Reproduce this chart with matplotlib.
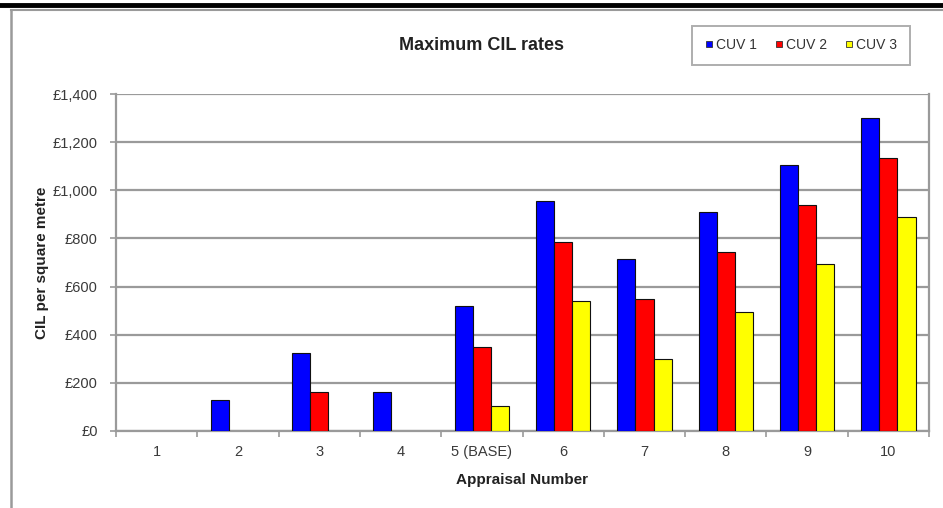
import numpy as np
import matplotlib.pyplot as plt
from matplotlib.lines import Line2D

plt.rcParams['font.family'] = ['Liberation Sans', 'DejaVu Sans']

categories = ['1', '2', '3', '4', '5 (BASE)', '6', '7', '8', '9', '10']
cuv1 = [0, 130, 325, 160, 520, 955, 715, 910, 1105, 1300]
cuv2 = [0, 0, 160, 0, 350, 785, 548, 745, 940, 1135]
cuv3 = [0, 0, 0, 0, 105, 540, 300, 495, 695, 890]
series_names = ['CUV 1', 'CUV 2', 'CUV 3']
colors = ['#0000ff', '#ff0000', '#ffff00']
yticks = [0, 200, 400, 600, 800, 1000, 1200, 1400]

fig = plt.figure(figsize=(9.43, 5.08), dpi=100)
ax = fig.add_axes([116 / 943, 1 - 431 / 508, (929 - 116) / 943, (431 - 94) / 508])

x = np.arange(len(categories))
w = 0.223
for k, vals in enumerate([cuv1, cuv2, cuv3]):
    vals = np.array(vals, dtype=float)
    mask = vals > 0
    ax.bar(x[mask] + (k - 1) * w, vals[mask], width=w, color=colors[k],
           edgecolor='#111111', linewidth=0.8, zorder=3)

ax.set_xlim(-0.5, len(categories) - 0.5)
ax.set_ylim(0, 1400)
ax.set_yticks(yticks)
ax.set_yticklabels(['£{:,}'.format(v) for v in yticks])
ax.set_xticks(x)
ax.set_xticklabels(categories)
ax.set_xticks(np.arange(-0.5, len(categories)), minor=True)

grid_c = '#9a9a9a'
ax.yaxis.grid(True, color=grid_c, linewidth=1.6, zorder=0)
for side in ['left', 'bottom', 'right']:
    ax.spines[side].set_color(grid_c)
    ax.spines[side].set_linewidth(1.6)
ax.spines['top'].set_visible(False)

ax.tick_params(axis='y', length=4, width=1.2, color=grid_c, pad=9,
               labelsize=10.5, labelcolor='#3a3a3a')
ax.tick_params(axis='x', which='major', length=0, pad=10,
               labelsize=10.5, labelcolor='#3a3a3a')
ax.tick_params(axis='x', which='minor', length=4, width=1.2, color=grid_c)

ax.set_xlabel('Appraisal Number', fontsize=11, fontweight='bold',
              color='#222222', labelpad=10)
ax.set_ylabel('CIL per square metre', fontsize=11, fontweight='bold',
              color='#222222', labelpad=3)

fig.text(482 / 943, 1 - 45 / 508, 'Maximum CIL rates', fontsize=13,
         fontweight='bold', color='#222222', ha='center', va='center')

handles = [Line2D([], [], marker='s', linestyle='none', markersize=5,
                  markerfacecolor=c, markeredgecolor='#333333', markeredgewidth=0.6)
           for c in colors]
leg = fig.legend(handles, series_names, loc='center',
                 bbox_to_anchor=(801 / 943, 1 - 45 / 508), ncol=3,
                 frameon=True, fancybox=False, fontsize=10,
                 handlelength=0.6, handletextpad=0.2, columnspacing=1.3,
                 borderpad=0.9)
leg.get_frame().set_edgecolor('#9a9a9a')
leg.get_frame().set_linewidth(1.4)
for t in leg.get_texts():
    t.set_color('#333333')

# outer frame: black band on top, grey border lines
fig.add_artist(Line2D([0, 1], [1 - 5 / 508, 1 - 5 / 508], color='black',
                      linewidth=3.5, transform=fig.transFigure))
fig.add_artist(Line2D([11 / 943, 1], [1 - 9.5 / 508, 1 - 9.5 / 508], color='#9a9a9a',
                      linewidth=1.5, transform=fig.transFigure))
fig.add_artist(Line2D([11 / 943, 11 / 943], [0, 1 - 9.5 / 508], color='#9a9a9a',
                      linewidth=1.8, transform=fig.transFigure))

fig.savefig('out.png', dpi=100)
